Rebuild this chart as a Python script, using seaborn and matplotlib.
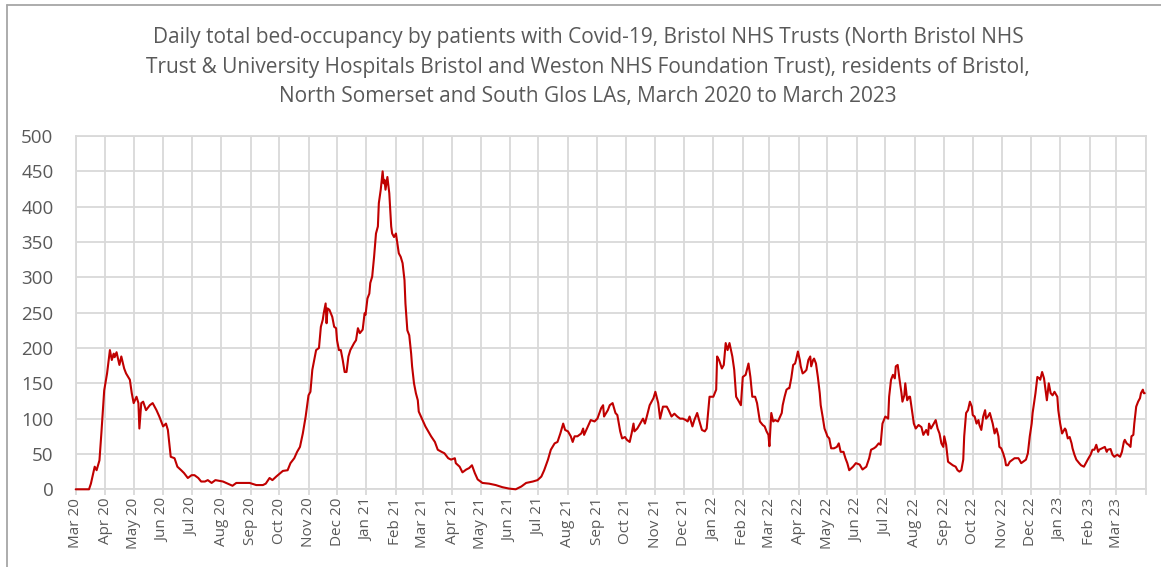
import numpy as np
import pandas as pd
import matplotlib
matplotlib.use("Agg")
import matplotlib.pyplot as plt
import seaborn as sns
from matplotlib.lines import Line2D

# ---------------- data ----------------
dates_2020 = [
    "2020-03-01", "2020-03-15", "2020-03-17", "2020-03-21", "2020-03-23", "2020-03-26", "2020-03-28",
    "2020-03-31", "2020-04-03", "2020-04-06", "2020-04-08", "2020-04-10", "2020-04-11", "2020-04-13",
    "2020-04-16", "2020-04-18", "2020-04-21", "2020-04-23", "2020-04-27", "2020-04-29", "2020-05-01",
    "2020-05-04", "2020-05-06", "2020-05-07", "2020-05-09", "2020-05-11", "2020-05-14", "2020-05-18",
    "2020-05-21", "2020-05-25", "2020-05-28", "2020-06-01", "2020-06-04", "2020-06-06", "2020-06-09",
    "2020-06-13", "2020-06-16", "2020-06-20", "2020-06-23", "2020-06-27", "2020-07-01", "2020-07-04",
    "2020-07-08", "2020-07-11", "2020-07-15", "2020-07-18", "2020-07-22", "2020-07-26", "2020-07-30",
    "2020-08-03", "2020-08-08", "2020-08-13", "2020-08-17", "2020-08-22", "2020-08-31", "2020-09-07",
    "2020-09-14", "2020-09-17", "2020-09-21", "2020-09-24", "2020-09-28", "2020-10-05", "2020-10-10",
    "2020-10-13", "2020-10-17", "2020-10-20", "2020-10-23", "2020-10-26", "2020-10-29", "2020-11-01",
    "2020-11-03", "2020-11-05", "2020-11-09", "2020-11-12", "2020-11-14", "2020-11-16", "2020-11-17",
    "2020-11-19", "2020-11-20", "2020-11-21", "2020-11-23", "2020-11-26", "2020-11-28", "2020-11-30",
    "2020-12-01", "2020-12-03", "2020-12-05", "2020-12-07", "2020-12-09", "2020-12-11", "2020-12-13",
    "2020-12-15", "2020-12-19", "2020-12-21", "2020-12-23", "2020-12-25", "2020-12-28", "2020-12-30",
    "2020-12-31",
]
beds_2020 = [
    0, 0, 8, 32, 27, 41, 79,
    140, 164, 197, 183, 192, 187, 194,
    176, 188, 171, 164, 155, 136, 122,
    131, 122, 86, 122, 124, 112, 119,
    122, 112, 103, 89, 93, 84, 46,
    44, 32, 27, 23, 16, 20, 20,
    16, 11, 11, 13, 9, 13, 12,
    11, 8, 5, 9, 9, 9, 6,
    6, 8, 16, 13, 18, 26, 27,
    37, 44, 53, 60, 79, 103, 133,
    138, 169, 197, 200, 230, 240, 249,
    263, 235, 256, 254, 244, 230, 228,
    211, 197, 197, 183, 166, 166, 188,
    197, 207, 211, 228, 221, 226, 249,
    247,
]

dates_2021 = [
    "2021-01-02", "2021-01-04", "2021-01-05", "2021-01-07", "2021-01-09", "2021-01-11", "2021-01-13",
    "2021-01-14", "2021-01-16", "2021-01-18", "2021-01-19", "2021-01-20", "2021-01-21", "2021-01-23",
    "2021-01-25", "2021-01-27", "2021-01-28", "2021-01-30", "2021-02-01", "2021-02-03", "2021-02-04",
    "2021-02-06", "2021-02-08", "2021-02-10", "2021-02-11", "2021-02-13", "2021-02-15", "2021-02-17",
    "2021-02-18", "2021-02-20", "2021-02-22", "2021-02-24", "2021-02-25", "2021-03-01", "2021-03-04",
    "2021-03-10", "2021-03-14", "2021-03-17", "2021-03-21", "2021-03-24", "2021-03-28", "2021-03-31",
    "2021-04-04", "2021-04-05", "2021-04-09", "2021-04-12", "2021-04-16", "2021-04-19", "2021-04-22",
    "2021-04-25", "2021-04-28", "2021-05-03", "2021-05-10", "2021-05-17", "2021-05-24", "2021-05-31",
    "2021-06-07", "2021-06-13", "2021-06-18", "2021-06-25", "2021-06-30", "2021-07-04", "2021-07-07",
    "2021-07-11", "2021-07-14", "2021-07-18", "2021-07-21", "2021-07-24", "2021-07-27", "2021-07-29",
    "2021-08-01", "2021-08-04", "2021-08-06", "2021-08-08", "2021-08-11", "2021-08-15", "2021-08-17",
    "2021-08-18", "2021-08-22", "2021-08-25", "2021-08-29", "2021-09-01", "2021-09-05", "2021-09-07",
    "2021-09-08", "2021-09-12", "2021-09-14", "2021-09-17", "2021-09-20", "2021-09-22", "2021-09-25",
    "2021-09-27", "2021-09-30", "2021-10-02", "2021-10-05", "2021-10-07", "2021-10-09", "2021-10-10",
    "2021-10-13", "2021-10-16", "2021-10-19", "2021-10-21", "2021-10-23", "2021-10-26", "2021-10-30",
    "2021-11-01", "2021-11-04", "2021-11-06", "2021-11-09", "2021-11-13", "2021-11-15", "2021-11-18",
    "2021-11-21", "2021-11-24", "2021-11-27", "2021-11-30", "2021-12-03", "2021-12-05", "2021-12-07",
    "2021-12-10", "2021-12-12", "2021-12-15", "2021-12-17", "2021-12-20", "2021-12-23", "2021-12-25",
    "2021-12-28",
]
beds_2021 = [
    270, 277, 292, 301, 329, 362, 372,
    405, 424, 450, 433, 438, 424, 442,
    419, 372, 362, 357, 362, 343, 334,
    329, 320, 296, 263, 225, 218, 192,
    174, 150, 136, 126, 110, 98, 89,
    75, 67, 56, 53, 51, 44, 42,
    44, 37, 32, 24, 28, 30, 34,
    23, 14, 9, 8, 6, 3, 1,
    0, 4, 9, 11, 13, 18, 27,
    42, 56, 65, 67, 79, 93, 84,
    82, 75, 67, 75, 75, 79, 86,
    77, 89, 98, 96, 100, 115, 119,
    103, 112, 119, 122, 108, 105, 82,
    72, 74, 70, 67, 79, 93, 82,
    86, 93, 100, 93, 103, 119, 129,
    138, 122, 100, 117, 117, 112, 103,
    107, 103, 100, 100, 98, 96, 103,
    89, 98, 108, 98, 84, 82, 86,
    131,
]

dates_2022 = [
    "2022-01-01", "2022-01-04", "2022-01-05", "2022-01-07", "2022-01-10", "2022-01-12", "2022-01-14",
    "2022-01-16", "2022-01-18", "2022-01-21", "2022-01-23", "2022-01-25", "2022-01-28", "2022-01-30",
    "2022-02-01", "2022-02-04", "2022-02-07", "2022-02-09", "2022-02-11", "2022-02-14", "2022-02-16",
    "2022-02-19", "2022-02-22", "2022-02-24", "2022-02-26", "2022-02-28", "2022-03-01", "2022-03-03",
    "2022-03-05", "2022-03-07", "2022-03-10", "2022-03-14", "2022-03-15", "2022-03-17", "2022-03-19",
    "2022-03-21", "2022-03-22", "2022-03-24", "2022-03-26", "2022-03-28", "2022-03-29", "2022-03-31",
    "2022-04-02", "2022-04-03", "2022-04-05", "2022-04-07", "2022-04-09", "2022-04-11", "2022-04-13",
    "2022-04-14", "2022-04-16", "2022-04-17", "2022-04-19", "2022-04-21", "2022-04-23", "2022-04-24",
    "2022-04-26", "2022-04-28", "2022-04-30", "2022-05-01", "2022-05-03", "2022-05-05", "2022-05-08",
    "2022-05-11", "2022-05-13", "2022-05-15", "2022-05-18", "2022-05-20", "2022-05-22", "2022-05-24",
    "2022-05-28", "2022-05-31", "2022-06-04", "2022-06-07", "2022-06-11", "2022-06-14", "2022-06-16",
    "2022-06-19", "2022-06-21", "2022-06-24", "2022-06-26", "2022-06-28", "2022-07-01", "2022-07-04",
    "2022-07-05", "2022-07-07", "2022-07-09", "2022-07-11", "2022-07-12", "2022-07-14", "2022-07-16",
    "2022-07-18", "2022-07-19", "2022-07-21", "2022-07-22", "2022-07-24", "2022-07-26", "2022-07-27",
    "2022-07-29", "2022-07-31", "2022-08-02", "2022-08-05", "2022-08-08", "2022-08-10", "2022-08-13",
    "2022-08-15", "2022-08-16", "2022-08-18", "2022-08-21", "2022-08-23", "2022-08-25", "2022-08-27",
    "2022-08-29", "2022-08-31", "2022-09-01", "2022-09-03", "2022-09-05", "2022-09-07", "2022-09-10",
    "2022-09-13", "2022-09-15", "2022-09-17", "2022-09-19", "2022-09-21", "2022-09-22", "2022-09-24",
    "2022-09-26", "2022-09-28", "2022-09-30", "2022-10-01", "2022-10-03", "2022-10-05", "2022-10-07",
    "2022-10-08", "2022-10-10", "2022-10-12", "2022-10-14", "2022-10-15", "2022-10-17", "2022-10-19",
    "2022-10-21", "2022-10-22", "2022-10-24", "2022-10-26", "2022-10-28", "2022-10-29", "2022-10-31",
    "2022-11-02", "2022-11-04", "2022-11-05", "2022-11-07", "2022-11-09", "2022-11-12", "2022-11-14",
    "2022-11-18", "2022-11-19", "2022-11-21", "2022-11-23", "2022-11-26", "2022-11-28", "2022-11-30",
    "2022-12-02", "2022-12-03", "2022-12-06", "2022-12-08", "2022-12-10", "2022-12-11", "2022-12-13",
    "2022-12-15", "2022-12-17", "2022-12-18", "2022-12-20", "2022-12-22", "2022-12-24", "2022-12-26",
    "2022-12-29", "2022-12-30",
]
beds_2022 = [
    131, 141, 188, 183, 171, 176, 207,
    197, 207, 188, 169, 131, 124, 119,
    159, 162, 178, 159, 131, 131, 122,
    96, 91, 89, 82, 77, 61, 108,
    96, 98, 96, 108, 119, 131, 141,
    143, 143, 157, 176, 178, 183, 195,
    183, 174, 164, 166, 169, 183, 188,
    174, 183, 185, 178, 159, 136, 119,
    103, 86, 79, 75, 72, 58, 58,
    60, 65, 53, 53, 44, 37, 27,
    32, 37, 35, 28, 32, 44, 56,
    58, 60, 65, 63, 93, 103, 100,
    131, 155, 162, 157, 174, 176, 155,
    136, 124, 133, 150, 126, 131, 131,
    112, 93, 86, 91, 88, 77, 84,
    77, 93, 86, 93, 98, 86, 79,
    65, 60, 75, 63, 39, 37, 34,
    32, 27, 25, 27, 42, 75, 108,
    112, 124, 117, 105, 103, 93, 98,
    91, 84, 103, 112, 100, 103, 108,
    98, 93, 79, 86, 75, 60, 58,
    51, 42, 34, 34, 39, 42, 44,
    44, 42, 37, 39, 42, 51, 75,
    93, 108, 136, 159, 157, 155, 166,
    157, 136, 126, 150, 136, 133, 138,
    131, 112,
]

dates_2023 = [
    "2023-01-01", "2023-01-03", "2023-01-06", "2023-01-07", "2023-01-09", "2023-01-11", "2023-01-13",
    "2023-01-14", "2023-01-16", "2023-01-18", "2023-01-21", "2023-01-23", "2023-01-26", "2023-01-28",
    "2023-01-30", "2023-02-02", "2023-02-04", "2023-02-06", "2023-02-08", "2023-02-10", "2023-02-11",
    "2023-02-14", "2023-02-17", "2023-02-19", "2023-02-20", "2023-02-23", "2023-02-25", "2023-02-27",
    "2023-03-02", "2023-03-05", "2023-03-07", "2023-03-09", "2023-03-10", "2023-03-12", "2023-03-14",
    "2023-03-16", "2023-03-17", "2023-03-19", "2023-03-20", "2023-03-22", "2023-03-24", "2023-03-26",
    "2023-03-27", "2023-03-29", "2023-03-30", "2023-03-31",
]
beds_2023 = [
    93, 79, 86, 84, 72, 74, 65,
    58, 49, 42, 37, 34, 32, 37,
    42, 49, 56, 56, 63, 53, 56,
    58, 60, 53, 56, 57, 49, 46,
    49, 46, 53, 67, 70, 65, 63,
    60, 75, 77, 93, 117, 124, 129,
    136, 141, 136, 136,
]

y_ticks = [0, 50, 100, 150, 200, 250, 300, 350, 400, 450, 500]
title_lines = [
    "Daily total bed-occupancy by patients with Covid-19, Bristol NHS Trusts (North Bristol NHS",
    "Trust & University Hospitals Bristol and Weston NHS Foundation Trust), residents of Bristol,",
    "North Somerset and South Glos LAs, March 2020 to March 2023",
]

# ---------------- figure ----------------
sns.set_theme(style="white")
plt.rcParams["font.family"] = ["Open Sans", "DejaVu Sans"]

df = pd.DataFrame({
    "date": pd.to_datetime(dates_2020 + dates_2021 + dates_2022 + dates_2023),
    "beds": beds_2020 + beds_2021 + beds_2022 + beds_2023,
})

W_PX, H_PX = 1161, 567
fig = plt.figure(figsize=(W_PX / 100, H_PX / 100), dpi=100)
fig.patch.set_facecolor("white")

left, right, top, bottom = 75.7, 1145.7, 136.0, 489.3
ax = fig.add_axes([left / W_PX, 1 - bottom / H_PX, (right - left) / W_PX, (bottom - top) / H_PX])

sns.lineplot(data=df, x="date", y="beds", ax=ax, color="#C00000", linewidth=1.5)
for ln in ax.get_lines():
    ln.set_clip_on(False)
    ln.set_zorder(5)

ax.set_xlim(pd.Timestamp("2020-03-01"), pd.Timestamp("2023-04-01"))
ax.set_ylim(0, 500)
ax.set_yticks(y_ticks)
ax.set_yticklabels([str(v) for v in y_ticks])

month_ticks = pd.date_range("2020-03-01", "2023-04-01", freq="MS")
ax.set_xticks(month_ticks)
ax.set_xticklabels([d.strftime("%b %y") for d in month_ticks[:-1]] + [""], rotation=90)

grid_c = "#d9d9d9"
ax.grid(True, color=grid_c, linewidth=1.3)
ax.set_axisbelow(True)
for s in ax.spines.values():
    s.set_color(grid_c)
    s.set_linewidth(1.3)
    s.set_zorder(1)

ax.tick_params(axis="x", bottom=True, length=4.5, width=1.3, color=grid_c,
               labelsize=11, labelcolor="#595959", pad=1.5)
ax.tick_params(axis="y", left=False, length=0, labelsize=13.5, labelcolor="#595959", pad=16)
for lbl in ax.get_xticklabels():
    lbl.set_va("top")
    lbl.set_ha("center")

ax.set_xlabel("")
ax.set_ylabel("")

# title
title_y = [38, 68, 97]
for line, yy in zip(title_lines, title_y):
    fig.text(588 / W_PX, 1 - yy / H_PX, line, ha="center", va="center",
             fontsize=15, color="#595959")

# chart-area frame (left and top edges visible in reference)
frame_c = "#a6a6a6"
fig.add_artist(Line2D([7 / W_PX, 7 / W_PX], [0, 1 - 5 / H_PX], transform=fig.transFigure,
                      color=frame_c, linewidth=1.3))
fig.add_artist(Line2D([7 / W_PX, 1], [1 - 5 / H_PX, 1 - 5 / H_PX], transform=fig.transFigure,
                      color=frame_c, linewidth=1.3))

fig.savefig("out.png", dpi=100, facecolor="white")
